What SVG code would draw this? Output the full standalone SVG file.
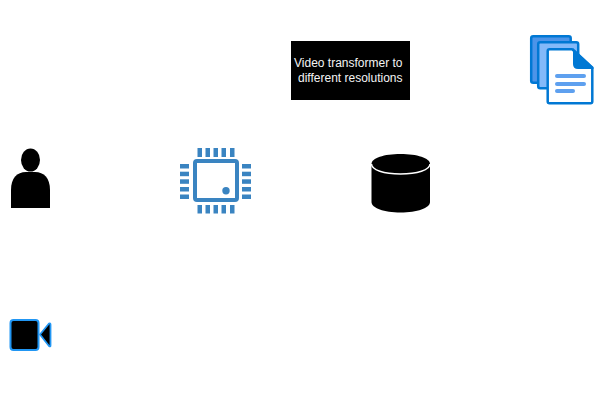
<svg xmlns="http://www.w3.org/2000/svg" width="594" height="410" viewBox="0 0 594 410">
<style>
.pin{fill:#3a84c1}
.lbl{font-family:"Liberation Sans",Arial,sans-serif;font-size:12px;fill:#f4f4f4}
.pg{stroke:#0078d4;stroke-width:2.500;stroke-linejoin:round}
</style>
<rect width="594" height="410" fill="#fff"/>
<g id="connectors"></g>
<g id="transformer">
<rect x="291" y="41" width="119" height="59" fill="#000"/>
<text class="lbl" x="294" y="67">Video transformer to</text>
<text class="lbl" x="298" y="82">different resolutions</text>
</g>
<g id="documents">
<rect class="pg" x="531.200" y="36.200" width="39.500" height="46.500" rx="2" fill="#4d94e8"/>
<rect class="pg" x="538.200" y="42.200" width="40" height="46" rx="2" fill="#83b9f9"/>
<path class="pg" d="M549.500 49.200H572L592.300 68V101.500Q592.300 103.300 590.500 103.300H549.500Q547.700 103.300 547.700 101.500V51Q547.700 49.200 549.500 49.200Z" fill="#fff"/>
<path d="M573 48L593.500 67V69H578Q573 69 573 64Z" fill="#0078d4"/>
<rect x="555" y="74" width="31" height="4" rx="2" fill="#5ea0ef"/>
<rect x="555" y="82" width="31" height="4" rx="2" fill="#5ea0ef"/>
<rect x="555" y="89" width="20" height="4" rx="2" fill="#5ea0ef"/>
</g>
<g id="user">
<ellipse cx="30.500" cy="160" rx="9.500" ry="11.500" fill="#000"/>
<path d="M11 208V190C11 178 17 172 26 172H35C44 172 50 178 50 190V208Z" fill="#000"/>
</g>
<g id="processor">
<rect x="195" y="161" width="42" height="39" rx="2" fill="#fff" stroke="#3a84c1" stroke-width="4"/>
<circle cx="226" cy="190.700" r="3.700" fill="#3a84c1"/>
<rect class="pin" x="197.500" y="148" width="4.500" height="9"/><rect class="pin" x="205.500" y="148" width="4.500" height="9"/><rect class="pin" x="213.500" y="148" width="4.500" height="9"/><rect class="pin" x="221.500" y="148" width="4.500" height="9"/><rect class="pin" x="230" y="148" width="4.500" height="9"/>
<rect class="pin" x="197.500" y="205" width="4.500" height="8.500"/><rect class="pin" x="205.500" y="205" width="4.500" height="8.500"/><rect class="pin" x="213.500" y="205" width="4.500" height="8.500"/><rect class="pin" x="221.500" y="205" width="4.500" height="8.500"/><rect class="pin" x="230" y="205" width="4.500" height="8.500"/>
<rect class="pin" x="180" y="164" width="9" height="4.500"/><rect class="pin" x="180" y="171.700" width="9" height="4.500"/><rect class="pin" x="180" y="179.300" width="9" height="4.500"/><rect class="pin" x="180" y="187" width="9" height="4.500"/><rect class="pin" x="180" y="194.500" width="9" height="4.500"/>
<rect class="pin" x="242" y="164" width="9" height="4.500"/><rect class="pin" x="242" y="171.700" width="9" height="4.500"/><rect class="pin" x="242" y="179.300" width="9" height="4.500"/><rect class="pin" x="242" y="187" width="9" height="4.500"/><rect class="pin" x="242" y="194.500" width="9" height="4.500"/>
</g>
<g id="database">
<path d="M371.500 164C371.500 158 384 154 400.500 154C417 154 430 158 430 164V202C430 208 417 212.500 400.500 212.500C384 212.500 371.500 208 371.500 202Z" fill="#000"/>
<path d="M371.500 164C371.500 170 384 174 400.500 174C417 174 430 170 430 164" fill="none" stroke="#fff" stroke-width="1.500"/>
</g>
<g id="camera">
<rect x="10.500" y="320" width="28" height="30" rx="3" fill="#000" stroke="#2196f3" stroke-width="2"/>
<path d="M40 334.500L49 323.500Q50.500 322.800 50.500 324.500V345.500Q50.500 347 49 346Z" fill="#000" stroke="#2196f3" stroke-width="1.800" stroke-linejoin="round"/>
</g>
</svg>
